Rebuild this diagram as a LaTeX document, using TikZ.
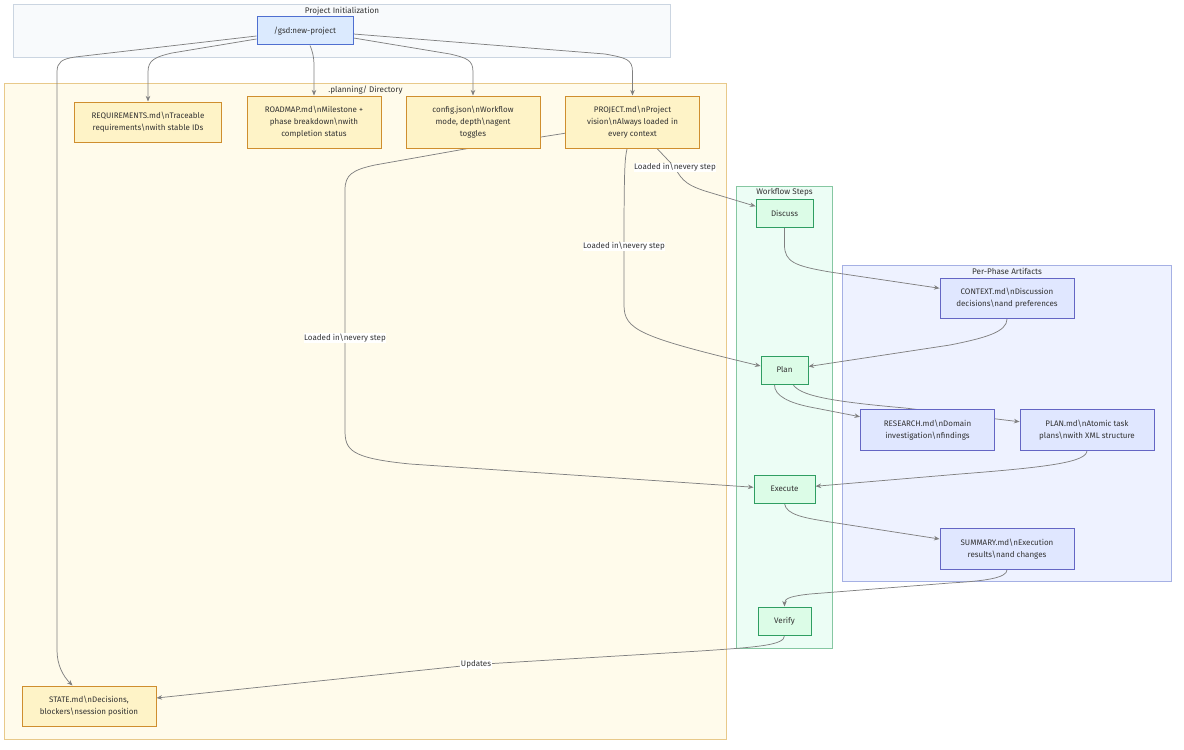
\documentclass[tikz,border=0pt]{standalone}
\usepackage{fontspec}
\setmainfont{Fira Sans}
\usetikzlibrary{calc,arrows.meta}
\pgfdeclarelayer{clusters}
\pgfdeclarelayer{edges}
\pgfsetlayers{clusters,edges,main}
\definecolor{txt}{HTML}{333333}
\definecolor{edgec}{HTML}{808080}
\definecolor{docline}{HTML}{CF8E2E}
\definecolor{docfill}{HTML}{FEF3C7}
\definecolor{stepline}{HTML}{2F9E62}
\definecolor{stepfill}{HTML}{DCFCE7}
\definecolor{artline}{HTML}{6466C4}
\definecolor{artfill}{HTML}{E0E7FF}
\definecolor{initline}{HTML}{4F6FD0}
\definecolor{initfill}{HTML}{DBEAFE}
\definecolor{cinitline}{HTML}{CBD5E1}
\definecolor{cinitfill}{HTML}{F8FAFC}
\definecolor{cplanline}{HTML}{E8C98A}
\definecolor{cplanfill}{HTML}{FFFBEB}
\definecolor{cflowline}{HTML}{86C7A2}
\definecolor{cflowfill}{HTML}{ECFDF5}
\definecolor{cartline}{HTML}{A5B0E4}
\definecolor{cartfill}{HTML}{EEF2FF}
\newcommand\bs{\textbackslash{}}
\tikzset{
  x=0.75pt,y=-0.75pt,
  every node/.style={text=txt,font=\fontsize{6}{9}\selectfont,align=center,inner sep=0pt},
  boxed/.style 2 args={rectangle,minimum width=#1*0.75pt,minimum height=#2*0.75pt,line width=0.75pt,execute at begin node={\vspace*{1.5pt}}},
  docbox/.style={draw=docline,fill=docfill},
  stepbox/.style={draw=stepline,fill=stepfill},
  artbox/.style={draw=artline,fill=artfill},
  initbox/.style={draw=initline,fill=initfill},
  cluster/.style={rectangle,line width=0.6pt},
  ctitle/.style={anchor=center,font=\fontsize{6.1}{9}\selectfont},
  lbl/.style={fill=white,inner xsep=0.5pt,inner ysep=0.5pt},
  conn/.style={draw=edgec,line width=0.55pt,-{Stealth[length=4.2pt,width=3.4pt]}},
}
\begin{document}
\begin{tikzpicture}
\path[use as bounding box] (0,0) rectangle (1184,749);
% nodes
\node[boxed={96}{28},initbox] (gsd) at (305,31) {/gsd:new-project};
\node[boxed={147}{40.5},docbox] (req) at (148,122.25) {REQUIREMENTS.md\bs nTraceable\\requirements\bs nwith stable IDs};
\node[boxed={134}{52.5},docbox] (road) at (314,122.25) {ROADMAP.md\bs nMilestone +\\phase breakdown\bs nwith\\completion status};
\node[boxed={134}{52.5},docbox] (cfg) at (473,122.25) {config.json\bs nWorkflow\\mode, depth\bs nagent\\toggles};
\node[boxed={134}{52.5},docbox] (proj) at (632.5,122.25) {PROJECT.md\bs nProject\\vision\bs nAlways loaded in\\every context};
\node[boxed={134}{40},docbox] (state) at (89,706) {STATE.md\bs nDecisions,\\blockers\bs nsession position};
\node[boxed={57}{28.5},stepbox] (disc) at (784.5,213.25) {Discuss};
\node[boxed={47}{28},stepbox] (plan) at (784.5,370) {Plan};
\node[boxed={61}{27.5},stepbox] (exec) at (784.5,489.25) {Execute};
\node[boxed={53}{28},stepbox] (ver) at (784.5,621) {Verify};
\node[boxed={134}{40.5},artbox] (ctx) at (1007,298.25) {CONTEXT.md\bs nDiscussion\\decisions\bs nand preferences};
\node[boxed={134}{40.5},artbox] (res) at (927.5,429.75) {RESEARCH.md\bs nDomain\\investigation\bs nfindings};
\node[boxed={134}{40.5},artbox] (pmd) at (1087,429.75) {PLAN.md\bs nAtomic task\\plans\bs nwith XML structure};
\node[boxed={134}{40.5},artbox] (sum) at (1007,549) {SUMMARY.md\bs nExecution\\results\bs nand changes};
% connector labels
\node[lbl] (l1) at (675,167.5) {Loaded in\bs nevery step};
\node[lbl] (l2) at (624,246.5) {Loaded in\bs nevery step};
\node[lbl] (l3) at (345,338) {Loaded in\bs nevery step};
\node[lbl] (l4) at (476,664.5) {Updates};
% cluster titles
\node[ctitle] (t1) at (342,11) {Project Initialization};
\node[ctitle] (t2) at (365.5,90) {.planning/ Directory};
\node[ctitle] (t3) at (784.5,192.5) {Workflow Steps};
\node[ctitle] (t4) at (1007,271.5) {Per-Phase Artifacts};
\begin{pgfonlayer}{clusters}
\node[cluster,draw=cinitline,fill=cinitfill,minimum width=657*0.75pt,minimum height=53*0.75pt] (cinit) at (342,30.5) {};
\node[cluster,draw=cplanline,fill=cplanfill,minimum width=722.5*0.75pt,minimum height=656*0.75pt] (cplan) at (365.25,411.5) {};
\node[cluster,draw=cflowline,fill=cflowfill,minimum width=96*0.75pt,minimum height=461.5*0.75pt] (cflow) at (784.5,417.25) {};
\node[cluster,draw=cartline,fill=cartfill,minimum width=329*0.75pt,minimum height=315.5*0.75pt] (cart) at (1007,423.25) {};
\end{pgfonlayer}
\begin{pgfonlayer}{edges}
\draw[conn] ($(gsd.west)+(0,5)$) -- (75,57) .. controls (62,59) and (57,62) .. (57,72) -- (57,650) .. controls (57,665) and (63,676) .. ($(state.north)+(-16.5,0)$);
\draw[conn] ($(gsd.west)+(0,8)$) -- (172,53) .. controls (155,57) and (148,60) .. (148,72) -- (req.north);
\draw[conn] ($(gsd.south)+(5,0)$) .. controls (312,50) and (314,56) .. (314,66) -- (road.north);
\draw[conn] ($(gsd.east)+(0,7)$) -- (450,54) .. controls (467,58) and (473,60) .. (473,72) -- (cfg.north);
\draw[conn] ($(gsd.east)+(0,3)$) -- (605,54) .. controls (626,58) and (632.5,59) .. (632.5,72) -- (proj.north);
\draw[conn] ($(proj.south)+(25,0)$) -- (l1.center) .. controls (682,182) and (690,186) .. (705,191) -- ($(disc.west)+(0,-7)$);
\draw[conn] ($(proj.south)+(-5.5,0)$) .. controls (625,158) and (624,165) .. (l2.center) -- (624,305) .. controls (624,330) and (640,337) .. ($(plan.west)+(0,-4)$);
\draw[conn] ($(proj.west)+(0,11)$) -- (465,149) -- (375,165) .. controls (352,170) and (345,175) .. (345,190) -- (l3.center) -- (345,430) .. controls (345,450) and (350,458) .. (410,464) -- ($(exec.west)+(0,-2)$);
\draw[conn] (disc.south) -- (784.5,245) .. controls (784.5,262) and (795,266) .. (830,272) -- ($(ctx.west)+(0,-10)$);
\draw[conn] (ctx.south) .. controls (1007,332) and (985,338) .. (950,345) -- ($(plan.east)+(0,-3.5)$);
\draw[conn] ($(plan.south)+(-10,0)$) .. controls (774,396) and (790,403) .. (810,407) -- ($(res.west)+(0,-13)$);
\draw[conn] ($(plan.south)+(8.5,0)$) .. controls (800,395) and (825,401) .. (905,408) -- ($(pmd.west)+(0,-8)$);
\draw[conn] (pmd.south) .. controls (1087,462) and (1050,467) .. (960,474) -- ($(exec.east)+(0,-3)$);
\draw[conn] (exec.south) .. controls (786,515) and (805,518) .. (830,522) -- ($(sum.west)+(0,-10)$);
\draw[conn] (sum.south) .. controls (1007,578) and (985,581) .. (950,583) -- (810,594) .. controls (792,596) and (784.5,598) .. (ver.north);
\draw[conn] (ver.south) .. controls (784.5,645) and (760,647) .. (700,651) -- (l4.center) -- ($(state.east)+(0,-8)$);
\end{pgfonlayer}
\end{tikzpicture}
\end{document}
